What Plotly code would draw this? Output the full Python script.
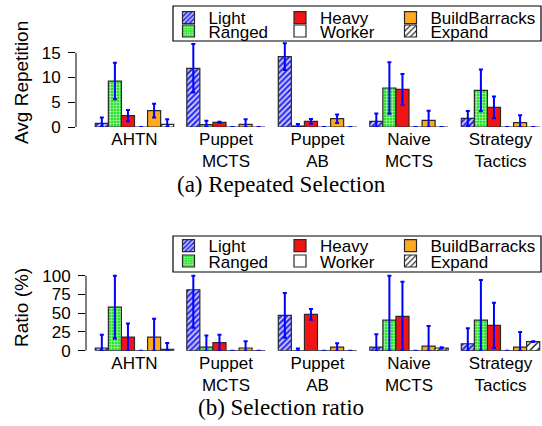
import plotly.graph_objects as go

W, H = 542, 426

# ---------------- data ----------------
categories = ["AHTN", "Puppet<br>MCTS", "Puppet<br>AB", "Naive<br>MCTS", "Strategy<br>Tactics"]
series_names = ["Light", "Ranged", "Heavy", "Worker", "BuildBarracks", "Expand"]

# (a) Repeated Selection: mean and error per series (one value per category)
rep_light = [0.74, 11.84, 14.19, 1.14, 1.75]
rep_ranged = [9.28, 0.47, 0.20, 7.87, 7.40]
rep_heavy = [2.29, 0.94, 1.14, 7.60, 3.97]
rep_worker = [0.0, 0.0, 0.0, 0.0, 0.0]
rep_build = [3.30, 0.54, 1.68, 1.34, 0.87]
rep_expand = [0.54, 0.0, 0.0, 0.0, 0.0]

rep_light_err = [1.20, 4.90, 2.70, 1.60, 1.50]
rep_ranged_err = [3.70, 0.80, 0.40, 5.20, 4.20]
rep_heavy_err = [1.15, 0.10, 0.50, 3.10, 2.20]
rep_worker_err = [0.0, 0.0, 0.0, 0.0, 0.0]
rep_build_err = [1.40, 1.00, 0.85, 1.95, 1.50]
rep_expand_err = [1.00, 0.0, 0.0, 0.0, 0.0]

# (b) Selection ratio (%)
ratio_light = [3.6, 81.3, 47.1, 4.9, 9.3]
ratio_ranged = [58.2, 4.9, 0.3, 40.9, 40.9]
ratio_heavy = [18.2, 10.7, 48.4, 45.8, 33.8]
ratio_worker = [0.0, 0.0, 0.0, 0.0, 0.0]
ratio_build = [18.2, 3.6, 4.9, 6.2, 4.9]
ratio_expand = [1.8, 0.0, 0.0, 3.6, 12.0]

ratio_light_err = [17.8, 50.6, 29.8, 17.0, 20.5]
ratio_ranged_err = [42.0, 15.5, 2.8, 62.0, 53.3]
ratio_heavy_err = [18.0, 10.6, 7.1, 46.2, 30.2]
ratio_worker_err = [0.0, 0.0, 0.0, 0.0, 0.0]
ratio_build_err = [24.5, 8.9, 4.9, 26.7, 20.0]
ratio_expand_err = [8.4, 0.0, 0.0, 1.0, 0.5]

rep_ticks = [0, 5, 10, 15]
ratio_ticks = [0, 25, 50, 75, 100]
ratio_cap = 100

rep_means = [rep_light, rep_ranged, rep_heavy, rep_worker, rep_build, rep_expand]
rep_errs = [rep_light_err, rep_ranged_err, rep_heavy_err, rep_worker_err, rep_build_err, rep_expand_err]
ratio_means = [ratio_light, ratio_ranged, ratio_heavy, ratio_worker, ratio_build, ratio_expand]
ratio_errs = [ratio_light_err, ratio_ranged_err, ratio_heavy_err, ratio_worker_err, ratio_build_err, ratio_expand_err]

# ---------------- styles ----------------
styles = {
    "Light": dict(color="#3535ff", pattern=dict(shape="/", fgcolor="#dcdcff", bgcolor="#3030f0", size=4, solidity=0.4, fillmode="replace")),
    "Ranged": dict(color="#33e833", pattern=dict(shape="+", fgcolor="#c8ffc8", bgcolor="#30e030", size=3, solidity=0.3, fillmode="replace")),
    "Heavy": dict(color="#f21414"),
    "Worker": dict(color="#ffffff"),
    "BuildBarracks": dict(color="#ffaa1e"),
    "Expand": dict(color="#ffffff", pattern=dict(shape="/", fgcolor="#000000", bgcolor="#ffffff", size=5, solidity=0.25, fillmode="replace")),
}

FONT = "Liberation Sans"
SERIF = "Liberation Serif"
ERR_COLOR = "#0000ff"


def clipped(means, errs, cap=None):
    up, down = [], []
    for m, e in zip(means, errs):
        down.append(min(e, m))
        up.append(min(e, cap - m) if cap is not None else e)
    return up, down


def legend_id(panel, i):
    n = 1 + panel * len(series_names) + i
    return "legend" if n == 1 else "legend%d" % n


fig = go.Figure()
panels = [(rep_means, rep_errs, None, "x", "y"), (ratio_means, ratio_errs, ratio_cap, "x2", "y2")]
for p, (means_all, errs_all, cap, xa, ya) in enumerate(panels):
    for i, (name, means, errs) in enumerate(zip(series_names, means_all, errs_all)):
        up, down = clipped(means, errs, cap)
        st = styles[name]
        marker = dict(color=st["color"], line=dict(color="#2a2a2a", width=1.2))
        if "pattern" in st:
            marker["pattern"] = st["pattern"]
        fig.add_trace(go.Bar(
            x=categories, y=means, name=name, marker=marker,
            error_y=dict(type="data", symmetric=False, array=up, arrayminus=down,
                         color=ERR_COLOR, thickness=2, width=2),
            xaxis=xa, yaxis=ya, legend=legend_id(p, i), showlegend=True,
        ))

# ---------------- layout geometry (pixels) ----------------
def fx(px):
    return px / W


def fy(px):
    return 1 - px / H


group_c0 = 134.5      # pixel centre of first group
group_step = 91.5     # pixels per category

top_left, bot_left = 76, 86
top_zero, top_px_per_unit = 127.0, 74.3 / 15
top_top = 41
bot_zero, bot_px_per_unit = 350.7, 0.75
bot_top = 271

x_top_range = [(top_left - group_c0) / group_step, (W - group_c0) / group_step]
x_bot_range = [(bot_left - group_c0) / group_step, (W - group_c0) / group_step]

common_x = dict(type="category", showline=False, showgrid=False, zeroline=False, ticks="",
                tickfont=dict(family=FONT, size=17, color="black"))
common_y = dict(showline=False, showgrid=False, zeroline=False, ticks="outside", ticklen=7,
                tickcolor="black", tickwidth=1, ticklabelstandoff=4,
                tickfont=dict(family=FONT, size=17, color="black"))

layout = dict(
    width=W, height=H, autosize=False,
    margin=dict(l=0, r=0, t=0, b=0, pad=0, autoexpand=False),
    paper_bgcolor="white", plot_bgcolor="white",
    barmode="group", bargap=1 / 7, bargroupgap=0,
    font=dict(family=FONT, color="black"),
    xaxis=dict(common_x, domain=[fx(top_left), 1], range=x_top_range, anchor="y"),
    yaxis=dict(common_y, domain=[fy(top_zero), fy(top_top)],
               range=[0, (top_zero - top_top) / top_px_per_unit], tickvals=rep_ticks, anchor="x"),
    xaxis2=dict(common_x, domain=[fx(bot_left), 1], range=x_bot_range, anchor="y2"),
    yaxis2=dict(common_y, domain=[fy(bot_zero), fy(bot_top)],
                range=[0, (bot_zero - bot_top) / bot_px_per_unit], tickvals=ratio_ticks, anchor="x2"),
    showlegend=True,
)

# one single-entry legend per slot: 3 columns x 2 rows in each panel
LEG_FONT = 17
item_center_offset = 5 + (LEG_FONT * 1.3 + 3) / 2
col_x = [168.5, 280, 390.5]
row_centers = [[15.7, 31.0], [245.7, 261.0]]
for p in range(2):
    for i in range(len(series_names)):
        col, row = i // 2, i % 2
        top_px = max(0.0, row_centers[p][row] - item_center_offset)
        layout[legend_id(p, i)] = dict(
            x=fx(col_x[col]), y=fy(top_px), xanchor="left", yanchor="top",
            orientation="v", bgcolor="rgba(0,0,0,0)", borderwidth=0,
            font=dict(family=FONT, size=LEG_FONT, color="black"))

fig.update_layout(**layout)

# axis lines spanning the tick range, and legend frames
fig.add_shape(type="line", xref="x domain", yref="y", x0=0, x1=0, y0=0, y1=max(rep_ticks),
              line=dict(color="black", width=1))
fig.add_shape(type="line", xref="x2 domain", yref="y2", x0=0, x1=0, y0=0, y1=max(ratio_ticks),
              line=dict(color="black", width=1))
for y0, y1 in [(6, 41), (236, 272)]:
    fig.add_shape(type="rect", xref="paper", yref="paper", x0=fx(173), x1=fx(541), y0=fy(y0), y1=fy(y1),
                  line=dict(color="black", width=1.2), fillcolor="rgba(0,0,0,0)")

# axis titles and captions
fig.add_annotation(text="Avg Repetition", xref="paper", yref="paper", x=fx(21), y=fy(83),
                   xanchor="center", yanchor="middle", textangle=-90, showarrow=False,
                   font=dict(family=FONT, size=19, color="black"))
fig.add_annotation(text="Ratio (%)", xref="paper", yref="paper", x=fx(21), y=fy(308),
                   xanchor="center", yanchor="middle", textangle=-90, showarrow=False,
                   font=dict(family=FONT, size=19, color="black"))
fig.add_annotation(text="(a) Repeated Selection", xref="paper", yref="paper", x=fx(281), y=fy(185),
                   xanchor="center", yanchor="middle", showarrow=False,
                   font=dict(family=SERIF, size=23, color="black"))
fig.add_annotation(text="(b) Selection ratio", xref="paper", yref="paper", x=fx(281), y=fy(407),
                   xanchor="center", yanchor="middle", showarrow=False,
                   font=dict(family=SERIF, size=23, color="black"))

fig.write_html("out.html", config={"displayModeBar": False},
               post_script="document.body.style.margin='0px';")
